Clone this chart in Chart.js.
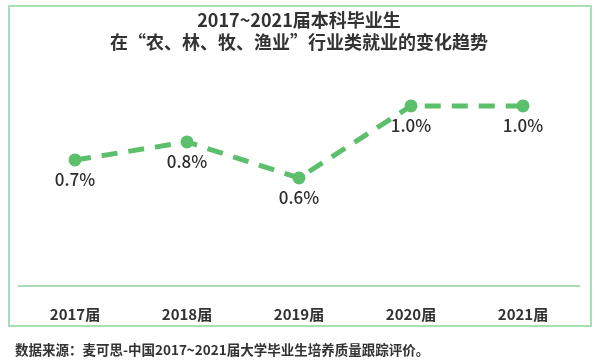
<!DOCTYPE html>
<html>
<head>
<meta charset="utf-8">
<script src="https://cdn.jsdelivr.net/npm/chart.js@4"></script>
<style>
  html, body { margin: 0; padding: 0; background: #fff; }
  #wrap { position: relative; width: 600px; height: 360px; }
  #box { position: absolute; left: 8px; top: 5px; width: 580px; height: 318px; border: 2px solid #a9e0b3; }
  #note { position: absolute; left: 15px; top: 339px; font: bold 13.5px "Noto Sans CJK SC", sans-serif; color: #333; white-space: nowrap; }
  canvas { position: absolute; left: 0; top: 0; }
</style>
</head>
<body>
<div id="wrap">
  <div id="box"></div>
  <canvas id="chart" width="600" height="360"></canvas>
  <div id="note">数据来源：麦可思-中国2017~2021届大学毕业生培养质量跟踪评价。</div>
</div>
<script>
var years = ["2017届", "2018届", "2019届", "2020届", "2021届"];
var shares = [0.7, 0.8, 0.6, 1.0, 1.0];
var shareLabels = ["0.7%", "0.8%", "0.6%", "1.0%", "1.0%"];
var titleLines = ["2017~2021届本科毕业生", "在“农、林、牧、渔业”行业类就业的变化趋势"];

var green = "#5bbf6b";

// labels under each point
var pointLabels = {
  id: "pointLabels",
  afterDatasetsDraw: function(chart) {
    var ctx = chart.ctx;
    var meta = chart.getDatasetMeta(0);
    ctx.save();
    ctx.fillStyle = "#2e2e2e";
    ctx.font = "500 17px 'Noto Sans CJK SC', sans-serif";
    ctx.textAlign = "center";
    ctx.textBaseline = "middle";
    meta.data.forEach(function(pt, i) {
      ctx.fillText(shareLabels[i], pt.x, pt.y + 20);
    });
    ctx.restore();
  }
};

new Chart(document.getElementById("chart"), {
  type: "line",
  data: {
    labels: years,
    datasets: [{
      data: shares,
      borderColor: green,
      backgroundColor: green,
      borderWidth: 5,
      borderDash: [16, 11],
      pointRadius: 6.5,
      pointBackgroundColor: green,
      pointBorderWidth: 0,
      tension: 0,
      fill: false
    }]
  },
  options: {
    responsive: false,
    animation: false,
    layout: { padding: { left: 19, right: 21, top: 0, bottom: 26 } },
    plugins: {
      legend: { display: false },
      tooltip: { enabled: false },
      title: {
        display: true,
        text: titleLines,
        color: "#333",
        font: { family: "'Noto Sans CJK SC', sans-serif", size: 18, weight: "bold", lineHeight: 1.22 },
        padding: { top: 9, bottom: 17 }
      }
    },
    scales: {
      x: {
        offset: true,
        grid: { display: false },
        border: { color: "#a9dcb2", width: 2 },
        ticks: {
          color: "#333",
          padding: 11,
          font: { family: "'Noto Sans CJK SC', sans-serif", size: 15, weight: "bold" }
        }
      },
      y: {
        display: false,
        min: 0,
        max: 1.2
      }
    }
  },
  plugins: [pointLabels]
});
</script>
</body>
</html>
